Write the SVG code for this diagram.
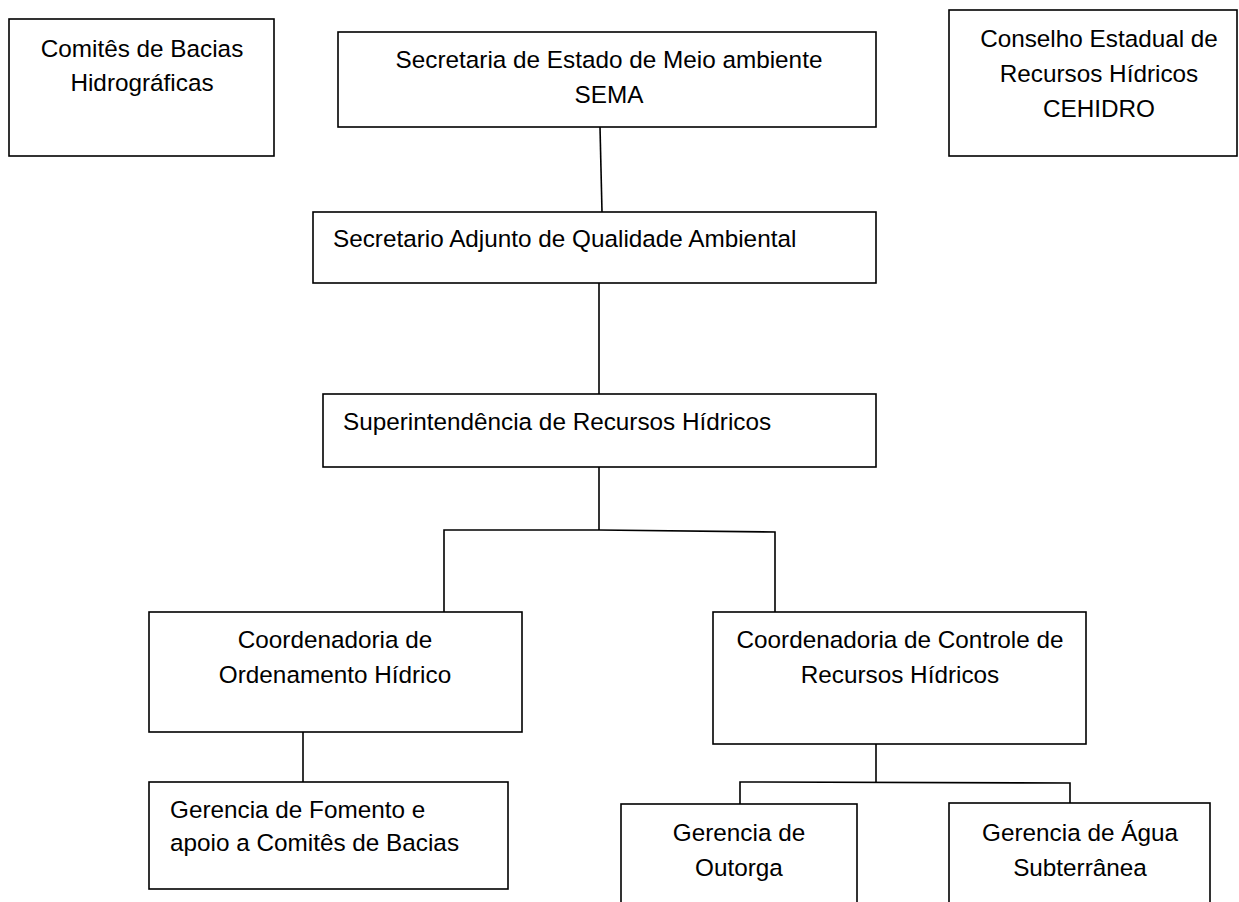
<svg xmlns="http://www.w3.org/2000/svg" width="1239" height="902" viewBox="0 0 1239 902">
<style>
.box{fill:#fff;stroke:#000;stroke-width:1.6}
.ln{fill:none;stroke:#000;stroke-width:1.6}
text{font-family:"Liberation Sans",Arial,sans-serif;font-size:24.3px;fill:#000}
.c{text-anchor:middle}
</style>
<rect width="1239" height="902" fill="#fff"/>
<g id="connectors">
<line class="ln" x1="600" y1="127" x2="602" y2="212"/>
<line class="ln" x1="599" y1="283" x2="599" y2="394"/>
<line class="ln" x1="599" y1="467" x2="599" y2="530"/>
<polyline class="ln" points="444,612 444,530 599,530 775,532 775,612"/>
<line class="ln" x1="303" y1="732" x2="303" y2="782"/>
<line class="ln" x1="876" y1="744" x2="876" y2="782"/>
<polyline class="ln" points="740,804 740,782 1070,783 1070,803"/>
</g>
<g id="comites">
<rect class="box" x="9" y="19" width="265" height="137"/>
<text class="c" x="142" y="57">Comitês de Bacias</text>
<text class="c" x="142" y="91">Hidrográficas</text>
</g>
<g id="sema">
<rect class="box" x="338" y="32" width="538" height="95"/>
<text class="c" x="609" y="68">Secretaria de Estado de Meio ambiente</text>
<text class="c" x="609" y="103">SEMA</text>
</g>
<g id="cehidro">
<rect class="box" x="949" y="10" width="288" height="146"/>
<text class="c" x="1099" y="47">Conselho Estadual de</text>
<text class="c" x="1099" y="82">Recursos Hídricos</text>
<text class="c" x="1099" y="117">CEHIDRO</text>
</g>
<g id="secretario">
<rect class="box" x="313" y="212" width="563" height="71"/>
<text x="333" y="247">Secretario Adjunto de Qualidade Ambiental</text>
</g>
<g id="superintendencia">
<rect class="box" x="323" y="394" width="553" height="73"/>
<text x="343" y="430">Superintendência de Recursos Hídricos</text>
</g>
<g id="ordenamento">
<rect class="box" x="149" y="612" width="373" height="120"/>
<text class="c" x="335" y="648">Coordenadoria de</text>
<text class="c" x="335" y="683">Ordenamento Hídrico</text>
</g>
<g id="controle">
<rect class="box" x="713" y="612" width="373" height="132"/>
<text class="c" x="900" y="648">Coordenadoria de Controle de</text>
<text class="c" x="900" y="683">Recursos Hídricos</text>
</g>
<g id="fomento">
<rect class="box" x="149" y="782" width="359" height="107"/>
<text x="170" y="818">Gerencia de Fomento e</text>
<text x="170" y="851">apoio a Comitês de Bacias</text>
</g>
<g id="outorga">
<rect class="box" x="621" y="804" width="236" height="110"/>
<text class="c" x="739" y="841">Gerencia de</text>
<text class="c" x="739" y="876">Outorga</text>
</g>
<g id="agua">
<rect class="box" x="949" y="803" width="261" height="110"/>
<text class="c" x="1080" y="841">Gerencia de Água</text>
<text class="c" x="1080" y="876">Subterrânea</text>
</g>
</svg>
